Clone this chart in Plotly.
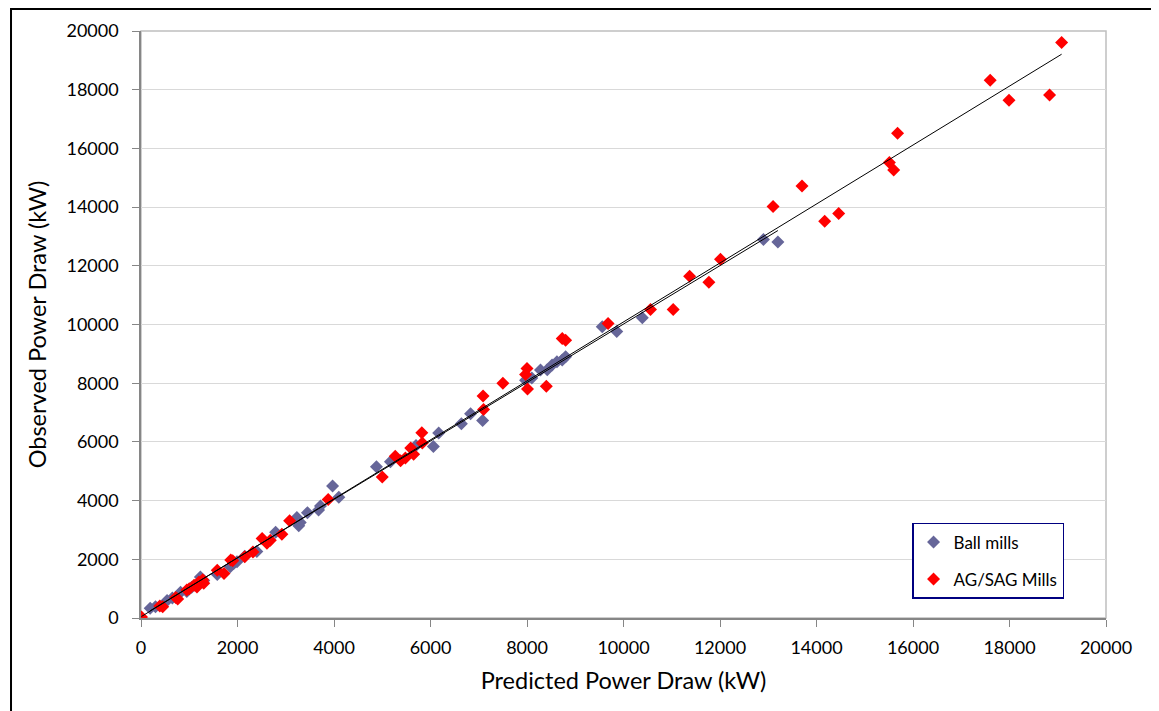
import numpy as np
import plotly.graph_objects as go

# Ball mills: predicted (x) vs observed (y), kW
ball_pred = [190, 300, 540, 650, 820, 950, 1050, 1230, 1300, 1580, 1850, 1920, 1990, 2150, 2400,
             2790, 3230, 3270, 3300, 3450, 3680, 3720, 3970, 4100, 4880, 5170, 5700, 6060, 6170,
             6640, 6830, 7080, 7970, 8100, 8280, 8420, 8520, 8620, 8730, 8800, 9560, 9860,
             10390, 12900, 13200]
ball_obs = [330, 380, 600, 680, 880, 900, 1050, 1400, 1280, 1480, 1750, 1860, 1920, 2100, 2270,
            2920, 3420, 3140, 3250, 3590, 3680, 3820, 4500, 4110, 5150, 5320, 5880, 5840, 6300,
            6620, 6960, 6730, 8100, 8180, 8450, 8460, 8620, 8730, 8790, 8900, 9920, 9760,
            10230, 12900, 12810]

# AG/SAG mills
sag_pred = [10, 390, 450, 720, 760, 950, 1000, 1100, 1160, 1200, 1280, 1300, 1580, 1720, 1860,
            1900, 2150, 2320, 2510, 2610, 2680, 2920, 3080, 3880, 5000, 5270, 5380, 5480, 5590,
            5650, 5830, 5820, 7090, 7100, 7500, 7970, 8000, 8010, 8400, 8730, 8800, 9680,
            10560, 11030, 11370, 11770, 12010, 13100, 13700, 14170, 14460, 15510, 15600,
            15680, 17600, 17990, 18830, 19080]
sag_obs = [30, 410, 380, 700, 650, 950, 1000, 1120, 1060, 1230, 1300, 1180, 1630, 1520, 1980,
           1950, 2090, 2250, 2710, 2550, 2650, 2850, 3310, 4040, 4800, 5510, 5360, 5450, 5790,
           5580, 5960, 6310, 7560, 7100, 8000, 8300, 8500, 7800, 7900, 9520, 9460, 10030,
           10510, 10510, 11640, 11440, 12220, 14020, 14720, 13520, 13780, 15520, 15260,
           16520, 18320, 17640, 17820, 19610]

ticks = [0, 2000, 4000, 6000, 8000, 10000, 12000, 14000, 16000, 18000, 20000]

BLUE = "#666699"
RED = "#FF0000"
FONT = "Lato"

fig = go.Figure()


def add_series(px, ob, name, color, group):
    fig.add_trace(go.Scatter(
        x=px, y=ob, mode="markers", name=name, legendgroup=group,
        marker=dict(symbol="diamond", size=10, color=color, line=dict(width=0)),
    ))


add_series(ball_pred, ball_obs, "Ball mills", BLUE, "a")
add_series(sag_pred, sag_obs, "AG/SAG Mills", RED, "b")

# linear trendlines (least squares) spanning each series' x-range
for px, ob in [(ball_pred, ball_obs), (sag_pred, sag_obs)]:
    m, c = np.polyfit(px, ob, 1)
    xs = np.array([min(px), max(px)])
    fig.add_trace(go.Scatter(x=xs, y=m * xs + c, mode="lines", showlegend=False,
                             line=dict(color="black", width=1), hoverinfo="skip"))

axis_common = dict(
    range=[0, 20000], tickvals=ticks, ticktext=[str(t) for t in ticks],
    showline=True, linecolor="#868686", linewidth=1.5,
    ticks="outside", ticklen=7, tickcolor="#868686", tickwidth=1,
    tickfont=dict(family=FONT, size=18, color="black"),
    zeroline=False,
)

fig.update_layout(
    width=1151, height=703,
    margin=dict(l=133, r=53, t=23, b=93),
    paper_bgcolor="white", plot_bgcolor="white",
    font=dict(family=FONT, color="black"),
    xaxis=dict(**axis_common, showgrid=False, ticklabelstandoff=6,
               title=dict(text="Predicted Power Draw (kW)", font=dict(family=FONT, size=23.5), standoff=15)),
    yaxis=dict(**axis_common, showgrid=True, gridcolor="#D9D9D9", gridwidth=1, ticklabelstandoff=10,
               title=dict(text="Observed Power Draw (kW)", font=dict(family=FONT, size=23.5), standoff=13)),
    legend=dict(x=0.799, y=0.162, xanchor="left", yanchor="top",
                bgcolor="white", bordercolor="#000080", borderwidth=1.5,
                font=dict(family=FONT, size=17), traceorder="grouped", tracegroupgap=12),
    shapes=[
        dict(type="rect", xref="x domain", yref="y domain", x0=0, x1=1, y0=0, y1=1,
             line=dict(color="#BFBFBF", width=1.5), layer="below"),
        dict(type="rect", xref="paper", yref="paper", x0=-0.1347, x1=1.1, y0=-0.2, y1=1.0375,
             line=dict(color="black", width=2)),
    ],
)

fig.write_html("out.html")
